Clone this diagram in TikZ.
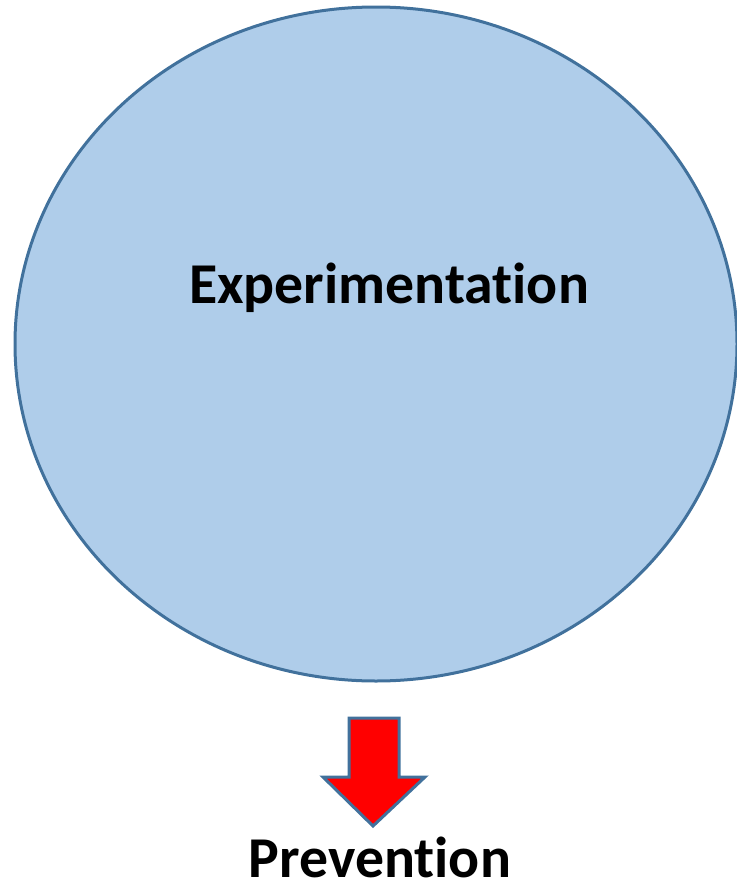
\documentclass[tikz,border=0pt]{standalone}
\usepackage{fontspec}
\setmainfont{Carlito}[Ligatures={NoCommon,NoContextual}]
\definecolor{fillblue}{RGB}{175,205,234}
\definecolor{edgeblue}{RGB}{65,113,156}
\begin{document}
\begin{tikzpicture}[x=1bp,y=-1bp,
  bigtext/.style={font=\bfseries\fontsize{58}{60}\selectfont, inner sep=0pt, anchor=base},
  bubble/.style={draw=edgeblue, fill=fillblue, line width=3bp},
  blockarrow/.style={draw=edgeblue, fill=red, line width=3bp, line join=miter}]
\useasboundingbox (0,0) rectangle (737,884);
\clip (0,0) rectangle (737,884);
\draw[bubble] (376,344) ellipse [x radius=361, y radius=337];
\node[bigtext] (exp) at (389,303) {Experimentation};
\draw[blockarrow] (349,718) -- (399,718) -- (399,777) -- (425,777) -- (373,826) -- (323,777) -- (349,777) -- cycle;
\node[bigtext] (prev) at (380,877) {Prevention};
\end{tikzpicture}
\end{document}
